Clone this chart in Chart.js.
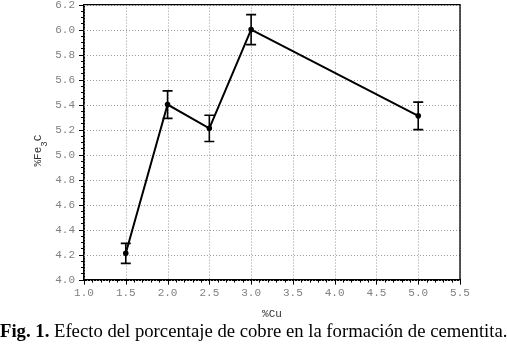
<!DOCTYPE html>
<html>
<head>
<meta charset="utf-8">
<script src="https://cdn.jsdelivr.net/npm/chart.js@4"></script>
<style>
  html, body { margin: 0; padding: 0; background: #fff; overflow: hidden; }
  #wrap { position: relative; width: 507px; height: 350px; overflow: hidden; }
  #chart { position: absolute; left: 0; top: 0; }
  #caption {
    position: absolute; left: 0; top: 320px; width: 507px;
    font-family: "Liberation Serif", "Times New Roman", serif;
    font-size: 18.7px; color: #000; white-space: nowrap;
  }
</style>
</head>
<body>
<div id="wrap">
  <canvas id="chart" width="507" height="350"></canvas>
  <div id="caption"><b>Fig. 1.</b> Efecto del porcentaje de cobre en la formación de cementita.</div>
</div>
<script>
// data
const cuPct = [1.5, 2.0, 2.5, 3.0, 5.0];
const fe3cPct = [4.21, 5.40, 5.21, 6.00, 5.31];
const errBar = [0.08, 0.11, 0.105, 0.12, 0.11];

const xMin = 1.0, xMax = 5.5, xStep = 0.5, xMinor = 0.1;
const yMin = 4.0, yMax = 6.2, yStep = 0.2, yMinor = 0.05;

// where the plot box sits in the figure
const box = { left: 84, right: 460, top: 5, bottom: 280 };

const monoFam = '"Liberation Mono", "DejaVu Sans Mono", monospace';
const tickFont = { family: monoFam, size: 11 };

// dotted grid behind the line
const dotGrid = {
  id: 'dotGrid',
  beforeDatasetsDraw(chart) {
    const ctx = chart.ctx;
    const xs = chart.scales.x, ys = chart.scales.y;
    const a = chart.chartArea;
    ctx.save();
    ctx.strokeStyle = '#9a9a9a';
    ctx.lineWidth = 1;
    ctx.setLineDash([1, 2]);
    ctx.beginPath();
    xs.ticks.forEach(t => {
      const px = Math.round(xs.getPixelForValue(t.value)) + 0.5;
      ctx.moveTo(px, a.top); ctx.lineTo(px, a.bottom);
    });
    ys.ticks.forEach(t => {
      const py = Math.round(ys.getPixelForValue(t.value)) + 0.5;
      ctx.moveTo(a.left, py); ctx.lineTo(a.right, py);
    });
    ctx.stroke();
    ctx.restore();
  }
};

// error bars, frame, minor/major ticks and axis titles
const extras = {
  id: 'extras',
  afterDatasetsDraw(chart) {
    const ctx = chart.ctx;
    const xs = chart.scales.x, ys = chart.scales.y;
    const a = chart.chartArea;
    ctx.save();
    // error bars
    ctx.strokeStyle = '#000';
    ctx.lineWidth = 1.6;
    cuPct.forEach((c, i) => {
      const px = xs.getPixelForValue(c);
      const top = ys.getPixelForValue(fe3cPct[i] + errBar[i]);
      const bot = ys.getPixelForValue(fe3cPct[i] - errBar[i]);
      ctx.beginPath();
      ctx.moveTo(px, top); ctx.lineTo(px, bot);
      ctx.moveTo(px - 5, top); ctx.lineTo(px + 5, top);
      ctx.moveTo(px - 5, bot); ctx.lineTo(px + 5, bot);
      ctx.stroke();
    });
    // frame top/right
    ctx.lineWidth = 1.3;
    ctx.beginPath();
    ctx.moveTo(a.left, a.top); ctx.lineTo(a.right, a.top); ctx.lineTo(a.right, a.bottom);
    ctx.stroke();
    // ticks
    ctx.lineWidth = 1;
    ctx.beginPath();
    for (let v = xMin; v <= xMax + 1e-9; v += xMinor) {
      const px = Math.round(xs.getPixelForValue(v)) + 0.5;
      const major = Math.abs(v / xStep - Math.round(v / xStep)) < 1e-6;
      ctx.moveTo(px, a.bottom); ctx.lineTo(px, a.bottom + (major ? 5 : 3));
    }
    for (let v = yMin; v <= yMax + 1e-9; v += yMinor) {
      const py = Math.round(ys.getPixelForValue(v)) + 0.5;
      const major = Math.abs(v / yStep - Math.round(v / yStep)) < 1e-6;
      ctx.moveTo(a.left, py); ctx.lineTo(a.left - (major ? 5 : 3), py);
    }
    ctx.stroke();
    // x title
    ctx.fillStyle = '#333';
    ctx.textBaseline = 'middle';
    ctx.textAlign = 'center';
    ctx.font = '11px ' + monoFam;
    ctx.fillText('%Cu', (a.left + a.right) / 2, a.bottom + 34);
    // y title: %Fe3C, rotated
    ctx.textAlign = 'left';
    ctx.translate(38, a.top + 146);
    ctx.rotate(-Math.PI / 2);
    const t1 = '%Fe', t3 = 'C';
    const w1 = ctx.measureText(t1).width;
    ctx.font = '9px ' + monoFam;
    const w2 = ctx.measureText('3').width;
    ctx.font = '11px ' + monoFam;
    const w3 = ctx.measureText(t3).width;
    const x0 = -(w1 + w2 + w3) / 2;
    ctx.fillText(t1, x0, 0);
    ctx.font = '9px ' + monoFam;
    ctx.fillText('3', x0 + w1, 7);
    ctx.font = '11px ' + monoFam;
    ctx.fillText(t3, x0 + w1 + w2, 0);
    ctx.restore();
  }
};

const pad = { top: 0, right: 0, left: 0, bottom: 0 };

const chart = new Chart(document.getElementById('chart'), {
  type: 'scatter',
  data: {
    datasets: [{
      data: cuPct.map((c, i) => ({ x: c, y: fe3cPct[i] })),
      showLine: true,
      borderColor: '#000',
      borderWidth: 2,
      pointRadius: 1.8,
      pointBackgroundColor: '#000',
      pointBorderColor: '#000'
    }]
  },
  options: {
    responsive: false,
    animation: false,
    layout: { padding: pad },
    plugins: { legend: { display: false }, tooltip: { enabled: false } },
    scales: {
      x: {
        type: 'linear', min: xMin, max: xMax,
        ticks: { stepSize: xStep, padding: 7, color: '#808080', font: tickFont, callback: v => v.toFixed(1) },
        grid: { display: false, drawTicks: false },
        border: { color: '#000', width: 2 }
      },
      y: {
        type: 'linear', min: yMin, max: yMax,
        ticks: { stepSize: yStep, padding: 9, color: '#808080', font: tickFont, callback: v => v.toFixed(1) },
        grid: { display: false, drawTicks: false },
        border: { color: '#000', width: 2 }
      }
    }
  },
  plugins: [dotGrid, extras]
});

// nudge the padding a few times so the plot box gets the figure's size
for (let k = 0; k < 4; k++) {
  const a = chart.chartArea;
  pad.left = Math.max(0, pad.left + box.left - a.left);
  pad.right = Math.max(0, pad.right + a.right - box.right);
  pad.bottom = Math.max(0, pad.bottom + (a.bottom - a.top) - (box.bottom - box.top));
  chart.options.layout.padding = Object.assign({}, pad);
  chart.update();
}
// then slide the canvas so the top edge sits at y=5
document.getElementById('chart').style.top = (box.top - chart.chartArea.top) + 'px';
</script>
</body>
</html>
